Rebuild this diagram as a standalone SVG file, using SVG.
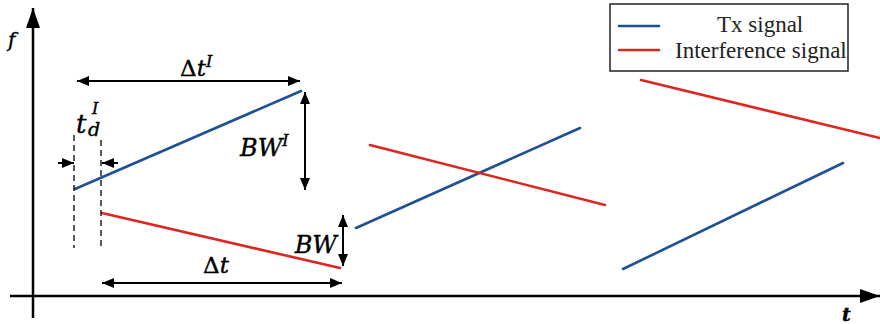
<svg xmlns="http://www.w3.org/2000/svg" width="880" height="324" viewBox="0 0 880 324">
<defs>
<marker id="ah" viewBox="0 0 12 10" refX="12" refY="5" markerWidth="12" markerHeight="10" markerUnits="userSpaceOnUse" orient="auto-start-reverse">
<path d="M0,0 L12,5 L0,10 Z" fill="#000"/>
</marker>
<marker id="axh" viewBox="0 0 20 14" refX="20" refY="7" markerWidth="20" markerHeight="14" markerUnits="userSpaceOnUse" orient="auto">
<path d="M0,0 L20,7 L0,14 Z" fill="#000"/>
</marker>
</defs>
<style>
.axis{stroke:#000;stroke-width:2.5;fill:none}
.dim{stroke:#000;stroke-width:2;fill:none}
.dash{stroke:#000;stroke-width:1.3;stroke-dasharray:6,4;fill:none}
.tx{stroke:#1f4f94;stroke-width:2.6;fill:none;stroke-linecap:round}
.inf{stroke:#de2620;stroke-width:2.6;fill:none;stroke-linecap:round}
.math{font-family:"DejaVu Serif","Liberation Serif",serif;font-style:italic;fill:#000;stroke:#000;stroke-width:0.4}
.up{font-style:normal}
.leg{font-family:"Liberation Serif","Times New Roman",serif;font-size:23px;fill:#222}
</style>
<rect width="880" height="324" fill="#fff"/>
<g id="axes">
<line class="axis" x1="33" y1="318" x2="33" y2="8" marker-end="url(#axh)"/>
<line class="axis" x1="10" y1="296" x2="880" y2="296" marker-end="url(#axh)"/>
<text class="math" x="8" y="47" font-size="20" font-family="Liberation Serif">f</text>
<text class="math" x="842" y="321" font-size="19" font-weight="bold" font-family="Liberation Serif">t</text>
</g>
<g id="signals">
<line class="tx" x1="75" y1="189" x2="301" y2="91"/>
<line class="inf" x1="102" y1="213" x2="340" y2="268"/>
<line class="tx" x1="356" y1="228" x2="580" y2="128"/>
<line class="inf" x1="370" y1="145" x2="605" y2="205"/>
<line class="tx" x1="623" y1="269" x2="843" y2="163"/>
<line class="inf" x1="641" y1="80" x2="880" y2="138"/>
</g>
<g id="connectors">
<line class="dash" x1="74" y1="135" x2="74" y2="248"/>
<line class="dash" x1="101" y1="140" x2="101" y2="250"/>
<line class="dim" x1="58" y1="163" x2="74" y2="163" marker-end="url(#ah)"/>
<line class="dim" x1="118" y1="163" x2="102" y2="163" marker-end="url(#ah)"/>
<line class="dim" x1="77" y1="81" x2="300" y2="81" marker-start="url(#ah)" marker-end="url(#ah)"/>
<line class="dim" x1="305" y1="92" x2="305" y2="190" marker-start="url(#ah)" marker-end="url(#ah)"/>
<line class="dim" x1="343" y1="215" x2="343" y2="266" marker-start="url(#ah)" marker-end="url(#ah)"/>
<line class="dim" x1="102" y1="283" x2="342" y2="283" marker-start="url(#ah)" marker-end="url(#ah)"/>
</g>
<g id="labels">
<text class="math" x="180" y="76" font-size="23"><tspan class="up">Δ</tspan>t<tspan font-size="16" dy="-9">I</tspan></text>
<text class="math" x="76" y="133" font-size="26">t</text>
<text class="math" x="92" y="114" font-size="16">I</text>
<text class="math" x="88" y="136" font-size="19">d</text>
<text class="math" x="240" y="156" font-size="24">BW<tspan font-size="16" dy="-10">I</tspan></text>
<text class="math" x="337" y="253" font-size="24" text-anchor="end">BW</text>
<text class="math" x="203" y="273" font-size="23"><tspan class="up">Δ</tspan>t</text>
</g>
<g id="legend">
<rect x="610" y="4" width="238" height="67" fill="#fff" stroke="#222" stroke-width="1.5"/>
<line class="tx" x1="619" y1="26" x2="659" y2="26"/>
<line class="inf" x1="619" y1="50" x2="659" y2="50"/>
<text class="leg" x="717" y="32">Tx signal</text>
<text class="leg" x="675" y="58">Interference signal</text>
</g>
</svg>
